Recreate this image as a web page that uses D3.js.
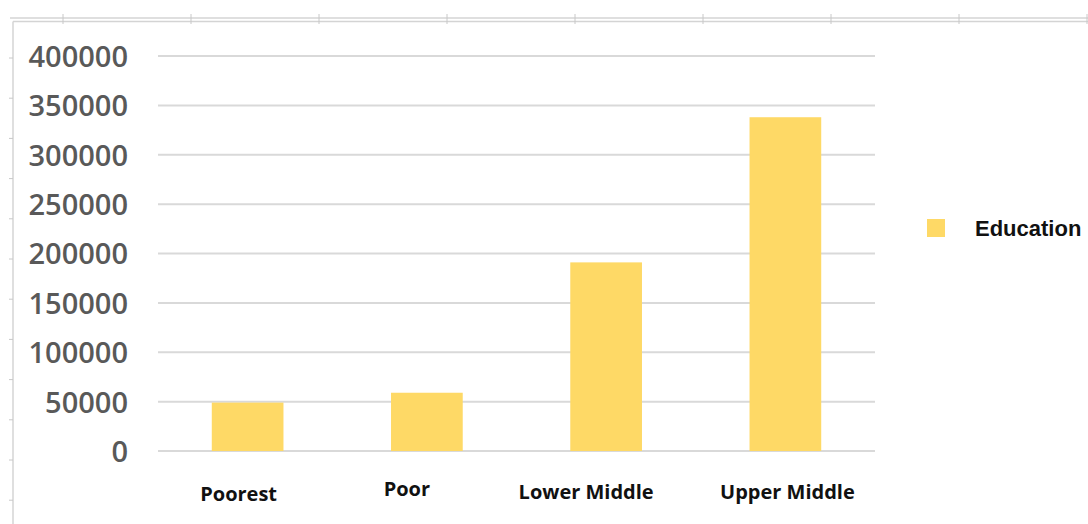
<!DOCTYPE html>
<html>
<head>
<meta charset="utf-8">
<script src="https://cdn.jsdelivr.net/npm/d3@7"></script>
<style>
  body { margin: 0; background: #fff; }
  svg { display: block; }
</style>
</head>
<body>
<div id="chart"></div>
<script>
// chart values
var categories = ["Poorest", "Poor", "Lower Middle", "Upper Middle"];
var education = [49000, 59000, 191000, 338000];
var yTicks = [0, 50000, 100000, 150000, 200000, 250000, 300000, 350000, 400000];
var seriesName = "Education";

var W = 1088, H = 524;
var margin = {top: 56, left: 158, right: 213, bottom: 73};

var svg = d3.select("#chart").append("svg")
  .attr("width", W)
  .attr("height", H);

// spreadsheet frame behind the chart
var frame = svg.append("g").attr("stroke", "#d4d4d4").attr("fill", "none");
frame.append("line").attr("x1", 10).attr("x2", W).attr("y1", 18).attr("y2", 18).attr("stroke-width", 1.5);
frame.append("line").attr("x1", 13).attr("x2", W).attr("y1", 21.5).attr("y2", 21.5).attr("stroke-width", 1.5);
frame.append("line").attr("x1", 13).attr("x2", 13).attr("y1", 21.5).attr("y2", H).attr("stroke-width", 1.5);
d3.range(63, W + 1, 128).forEach(function(x) {
  frame.append("line").attr("x1", x).attr("x2", x).attr("y1", 14).attr("y2", 24).attr("stroke", "#c8c8c8");
});
d3.range(58, H, 40.2).forEach(function(y) {
  frame.append("line").attr("x1", 9).attr("x2", 13).attr("y1", y).attr("y2", y).attr("stroke", "#c8c8c8");
});

var x = d3.scaleBand()
  .domain(categories)
  .range([margin.left, W - margin.right])
  .paddingInner(0.6)
  .paddingOuter(0.3);

var y = d3.scaleLinear()
  .domain([0, 400000])
  .range([H - margin.bottom, margin.top]);

// gridlines
svg.append("g")
  .selectAll("line")
  .data(yTicks)
  .enter().append("line")
  .attr("x1", margin.left)
  .attr("x2", W - margin.right)
  .attr("y1", function(d) { return y(d); })
  .attr("y2", function(d) { return y(d); })
  .attr("stroke", "#d9d9d9")
  .attr("stroke-width", 2);

// y axis labels
var yAxis = d3.axisLeft(y).tickValues(yTicks).tickSize(0).tickPadding(0).tickFormat(d3.format("d"));
var ya = svg.append("g")
  .attr("transform", "translate(128,0)")
  .call(yAxis);
ya.select(".domain").remove();
ya.selectAll("text")
  .attr("font-family", "'Open Sans', sans-serif")
  .attr("font-weight", 600)
  .attr("font-size", 29)
  .attr("fill", "#595959")
  .attr("dy", "0.36em");

// bars
svg.append("g")
  .selectAll("rect")
  .data(education)
  .enter().append("rect")
  .attr("x", function(d, i) { return x(categories[i]); })
  .attr("y", function(d) { return y(d); })
  .attr("width", x.bandwidth())
  .attr("height", function(d) { return y(0) - y(d); })
  .attr("fill", "#fed966");

// category labels (slightly uneven in the original)
var labelShift = [[-9, 501], [-20, 496], [-20, 499], [2, 499]];
svg.append("g")
  .selectAll("text")
  .data(categories)
  .enter().append("text")
  .attr("x", function(d, i) { return x(d) + x.bandwidth() / 2 + labelShift[i][0]; })
  .attr("y", function(d, i) { return labelShift[i][1]; })
  .attr("text-anchor", "middle")
  .attr("font-family", "'Open Sans', sans-serif")
  .attr("font-weight", 700)
  .attr("font-size", 20)
  .attr("fill", "#111")
  .text(function(d) { return d; });

// legend
var legend = svg.append("g").attr("transform", "translate(927,219)");
legend.append("rect")
  .attr("width", 18).attr("height", 18)
  .attr("fill", "#fed966");
legend.append("text")
  .attr("x", 48).attr("y", 9)
  .attr("dy", "0.36em")
  .attr("font-family", "'Liberation Sans', Arial, sans-serif")
  .attr("font-weight", 700)
  .attr("font-size", 22)
  .attr("fill", "#111")
  .text(seriesName);
</script>
</body>
</html>
